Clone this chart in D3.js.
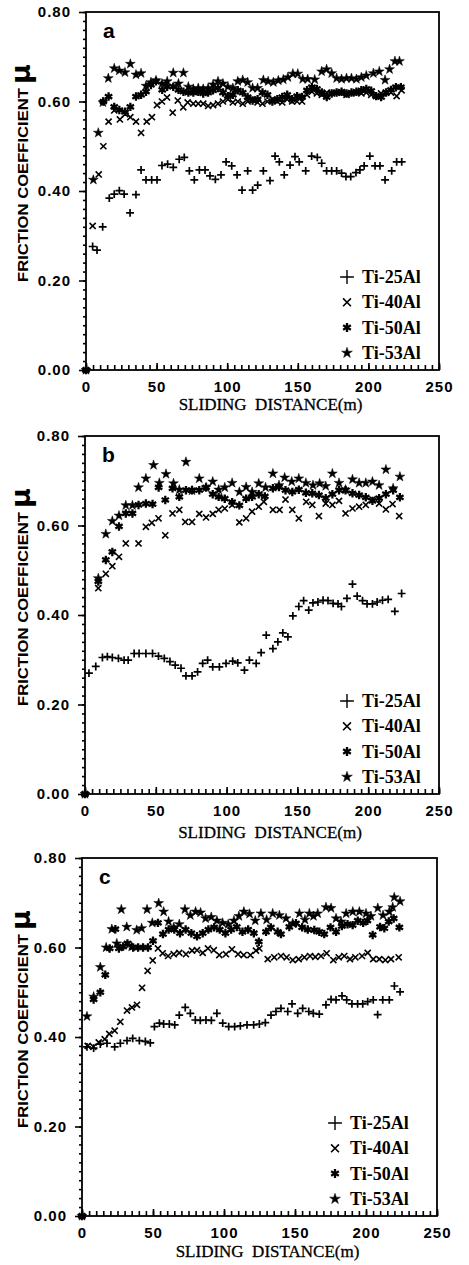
<!DOCTYPE html>
<html lang="en">
<head>
<meta charset="UTF-8" />
<title>Friction coefficient vs sliding distance</title>
<script src="https://d3js.org/d3.v7.min.js"></script>
<style>
  body { margin: 0; background: #fff; }
  svg { display: block; }
  .tick text { font-family: "Liberation Sans", Arial, sans-serif; font-weight: bold; font-size: 15px; letter-spacing: 1px; fill: #000; }
  .tick line { stroke: #000; stroke-width: 1.6px; }
  .axis-title { font-family: "Liberation Serif", "Times New Roman", serif; font-size: 17px; fill: #000; stroke: #000; stroke-width: 0.3px; }
  .y-title { font-family: "Liberation Sans", Arial, sans-serif; font-weight: bold; font-size: 15px; fill: #000; }
  .mu { font-family: "DejaVu Sans", sans-serif; font-weight: bold; font-size: 27px; fill: #000; }
  .panel-label { font-family: "Liberation Sans", Arial, sans-serif; font-weight: bold; font-size: 21px; fill: #000; }
  .legend text { font-family: "Liberation Serif", "Times New Roman", serif; font-weight: bold; font-size: 18px; fill: #000; }
</style>
</head>
<body>
<svg id="chart" width="469" height="1265"></svg>
<script>
// series names and axis ticks
const seriesNames = ["Ti-25Al", "Ti-40Al", "Ti-50Al", "Ti-53Al"];
const xTicks = [0, 50, 100, 150, 200, 250];
const yTicks = [0, 0.2, 0.4, 0.6, 0.8];

// panel a : [sliding distance (m), friction coefficient]
const a25 = [[0,0],[4.7,.276],[7.8,.268],[11.8,.32],[16.5,.384],[20,.393],[23.6,.401],[27,.393],[31.2,.351],[35.4,.392],[39,.447],[42.5,.425],[46.5,.425],[50.3,.425],[53.8,.457],[57.8,.46],[61.8,.453],[66,.471],[69.6,.475],[73.2,.445],[76.7,.425],[80.3,.447],[84.3,.447],[87.8,.434],[91.6,.426],[95.6,.436],[99.2,.465],[103.2,.456],[107,.436],[110.5,.402],[114.5,.445],[118,.402],[121.6,.413],[125.6,.445],[130.3,.423],[133.9,.478],[136.9,.465],[140.4,.436],[144.5,.458],[148,.477],[151,.465],[155.6,.445],[159.8,.478],[163.8,.475],[166.9,.462],[170.4,.445],[174,.445],[177.5,.445],[181,.44],[184.1,.432],[187.5,.432],[191.2,.441],[194,.447],[197,.456],[201,.478],[204.7,.456],[208.2,.456],[211.8,.425],[216.5,.445],[220,.465],[223.6,.465]];
const a40 = [[0,0],[4.7,.322],[9,.437],[12.3,.50],[16,.555],[20,.58],[24,.56],[27.8,.572],[31.4,.565],[35.4,.555],[39,.53],[43,.555],[46.7,.565],[50.3,.592],[53.8,.60],[57.4,.609],[61.4,.575],[65,.602],[68.9,.587],[72,.598],[76,.595],[79.5,.595],[83,.595],[86.5,.59],[90,.592],[93.5,.595],[97,.60],[100.5,.605],[104,.598],[107.5,.60],[111,.595],[114.5,.60],[118,.605],[121.5,.598],[125,.595],[128.5,.60],[132,.605],[135.5,.60],[139,.598],[142.5,.605],[146,.60],[149.5,.60],[153,.60],[156.5,.615],[160,.622],[163.5,.618],[167,.615],[170.5,.62],[174,.618],[177.5,.62],[181,.62],[184.5,.615],[188,.618],[191.5,.62],[195,.618],[198.5,.62],[202,.615],[205.5,.612],[209,.618],[212.5,.62],[216,.62],[220,.612],[223.5,.625]];
const a50 = [[0,0],[12.3,.60],[16,.611],[20,.588],[23.6,.581],[27.6,.577],[31.4,.588],[35.4,.611],[39,.615],[42.5,.622],[46,.637],[49.6,.645],[54,.626],[57.5,.633],[61.8,.633],[65.5,.626],[69,.622],[72.5,.62],[76,.62],[79.5,.622],[83,.618],[86.5,.62],[90,.625],[93.5,.63],[97,.62],[100.5,.612],[104,.615],[107.5,.625],[111,.62],[114.5,.61],[118,.602],[121.5,.605],[125,.62],[128.5,.615],[132,.60],[135.5,.605],[139,.61],[142.5,.615],[146,.605],[149.5,.612],[153,.61],[156.5,.625],[160,.632],[163.5,.628],[167,.62],[170.5,.61],[174,.618],[177.5,.62],[181,.622],[184.5,.618],[188,.62],[191.5,.622],[195,.625],[198.5,.628],[202,.624],[205.5,.612],[209,.61],[212.5,.62],[216,.626],[219.5,.632],[223,.632]];
const a53 = [[0,0],[5.2,.425],[8.7,.53],[12,.598],[15.8,.652],[20,.674],[23.6,.669],[27.6,.665],[31.4,.684],[35.4,.66],[39,.663],[42.5,.635],[46,.643],[49.6,.647],[53.8,.64],[57.5,.645],[61.8,.664],[65.5,.64],[69,.664],[72.5,.633],[76,.628],[79.5,.63],[83,.628],[86.5,.63],[90,.638],[93.5,.645],[97,.64],[100.5,.633],[104,.63],[107.5,.645],[111,.648],[114.5,.643],[118,.63],[121.5,.63],[125.6,.648],[129,.645],[132.7,.643],[136.2,.647],[139.7,.649],[143,.654],[146.5,.662],[150,.662],[153.5,.65],[157,.65],[162,.649],[166.9,.667],[170.4,.672],[174,.663],[177.5,.652],[181,.65],[184.5,.652],[188,.652],[191.5,.65],[195,.654],[198.5,.658],[203.5,.663],[207.7,.667],[211.8,.648],[215,.672],[218.8,.69],[222,.69]];

// panel b
const b25 = [[0,0],[2.8,.270],[7.6,.285],[12.3,.305],[15.8,.307],[19.3,.305],[23.6,.303],[27.6,.299],[30.5,.299],[34.7,.314],[38.2,.314],[43,.314],[47.7,.314],[51.9,.308],[56,.303],[60,.296],[63.7,.288],[67.8,.281],[71.3,.264],[75.6,.264],[79.5,.273],[83.1,.292],[86.6,.299],[90.2,.284],[94.9,.284],[99.6,.292],[104.3,.297],[107.9,.293],[112.6,.277],[116.1,.299],[120.9,.292],[124.4,.316],[128,.355],[132.7,.325],[136.2,.34],[139.7,.36],[143.3,.351],[146.8,.398],[151,.419],[154.4,.432],[158,.411],[161,.427],[164.5,.429],[168.1,.433],[171.6,.432],[175.2,.426],[178.7,.425],[181.1,.419],[185,.437],[188.9,.469],[192.2,.442],[196,.432],[199.2,.425],[203,.425],[206.3,.429],[210.1,.433],[214.1,.435],[218.8,.408],[223.6,.448]];
const b40 = [[0,0],[9.4,.46],[14.7,.492],[19.3,.509],[24,.53],[28.8,.56],[37.8,.56],[43,.597],[47.2,.606],[51.9,.616],[56.7,.578],[61.8,.627],[66.6,.635],[70.8,.608],[75.6,.608],[80.7,.626],[85.5,.618],[90.2,.626],[94.4,.635],[98.7,.638],[103.9,.646],[109,.607],[113.8,.616],[118,.631],[122.7,.642],[126.3,.653],[132.7,.635],[137.4,.635],[141.6,.658],[146.4,.635],[151,.616],[156.2,.653],[160.5,.646],[165.2,.621],[170,.649],[174.7,.646],[179.4,.655],[184,.627],[188.9,.638],[193.6,.642],[198.3,.646],[203,.658],[207.7,.649],[212.5,.636],[217.2,.648],[221.9,.621]];
const b50 = [[0,0],[9.4,.475],[14.7,.523],[19.3,.541],[24,.598],[28.8,.627],[33.5,.627],[37.8,.646],[43,.649],[47.7,.648],[52,.685],[56.7,.657],[61.8,.683],[66.6,.664],[71.3,.679],[75.6,.679],[80.7,.679],[85.5,.685],[90.2,.67],[94.4,.664],[98.7,.66],[103.9,.652],[109,.645],[113.8,.66],[118,.664],[122.7,.67],[127,.665],[132.7,.683],[137,.686],[141.6,.679],[146.4,.675],[151,.68],[156,.673],[160.5,.672],[165.2,.668],[170,.661],[174.7,.67],[179.4,.679],[184,.679],[188.9,.672],[193.6,.668],[198.3,.663],[203,.655],[207.7,.661],[212.5,.67],[217.6,.679],[222.4,.663]];
const b53 = [[0,0],[9.4,.482],[14.7,.581],[19.3,.61],[24,.622],[28.8,.645],[33.5,.645],[37.8,.685],[43,.705],[48.4,.735],[52.5,.695],[57.2,.715],[62.5,.694],[66.6,.68],[71.3,.742],[75.6,.678],[80.7,.705],[85.5,.685],[90.2,.698],[94.4,.68],[98.7,.685],[103.9,.695],[109,.675],[113.8,.686],[118,.675],[122.7,.694],[127.5,.685],[132.7,.716],[137,.69],[141,.707],[146,.698],[151,.705],[156,.695],[161,.69],[165.7,.694],[170,.688],[174.7,.716],[179.4,.695],[184,.68],[188.9,.703],[193.6,.695],[198.3,.695],[203,.698],[207.7,.69],[212.5,.725],[217.6,.683],[222.4,.709]];

// panel c
const c25 = [[0,0],[3.5,.378],[8.2,.375],[12.9,.384],[17.6,.386],[23,.378],[27,.386],[31.7,.392],[35.7,.397],[40.4,.392],[44.6,.39],[48.1,.387],[51,.423],[54.5,.431],[57.5,.429],[61.5,.429],[65.3,.427],[68.5,.449],[72.7,.466],[76.3,.453],[79.8,.438],[83.3,.437],[87.3,.438],[91.1,.437],[95,.453],[99.1,.431],[103.3,.423],[107.5,.423],[111.5,.425],[116.2,.427],[120.9,.427],[124.9,.429],[129.1,.432],[133.1,.449],[136.6,.457],[140.1,.464],[144.9,.457],[147.9,.474],[151.9,.453],[155.4,.464],[159.7,.457],[162.9,.453],[167.1,.451],[171.8,.472],[175.4,.484],[178.9,.483],[183.1,.492],[186.4,.483],[190.1,.474],[194.1,.474],[197.7,.474],[201.2,.479],[205.1,.483],[208.2,.45],[211.8,.483],[216.4,.483],[220,.514],[224,.501]];
const c40 = [[0,0],[4,.38],[8,.378],[11.8,.388],[16,.395],[19.2,.407],[23,.414],[27,.434],[31.7,.459],[35.2,.466],[38.7,.472],[42.3,.51],[46.2,.548],[49.8,.571],[53.5,.598],[56.8,.587],[60.6,.581],[64.6,.585],[68.5,.588],[73.2,.585],[77.5,.593],[81,.594],[85,.588],[88.7,.598],[92.8,.594],[96.7,.583],[101.4,.585],[105.6,.596],[109.9,.585],[113.9,.583],[118.6,.583],[122.5,.593],[124.9,.598],[130.8,.574],[135.4,.578],[140.1,.581],[144.1,.578],[148.4,.572],[152.6,.574],[156.6,.578],[160.6,.581],[164.3,.579],[168.3,.581],[172.3,.587],[177,.572],[180.8,.578],[184.7,.581],[188.7,.574],[192.5,.578],[197.2,.581],[201.2,.588],[205.1,.574],[209.4,.574],[213.6,.572],[217.6,.574],[223,.578]];
const c50 = [[0,0],[8.2,.484],[12.9,.50],[16.4,.539],[19.5,.598],[23.5,.641],[26,.598],[29,.602],[32,.609],[36,.60],[39.5,.60],[43,.60],[46.5,.60],[50,.615],[53.5,.655],[57,.63],[61,.64],[65,.64],[69,.632],[73,.64],[77,.632],[81,.625],[85,.632],[89,.64],[93,.645],[97,.64],[101,.632],[105,.64],[109,.646],[113,.635],[117,.64],[121,.632],[124.5,.613],[129.6,.635],[133,.645],[137.8,.635],[140.1,.63],[146,.646],[150.7,.654],[155,.645],[159,.64],[163.6,.639],[167.1,.635],[170.6,.63],[175,.645],[178.9,.635],[183,.648],[187,.652],[190.6,.65],[194.2,.66],[198,.655],[201,.66],[204.7,.628],[209.9,.646],[212.9,.643],[216,.658],[219.5,.665],[223.5,.645]];
const c53 = [[0,0],[3.5,.446],[8.2,.49],[12.9,.556],[17,.60],[21,.641],[24.5,.609],[27.7,.685],[31.5,.646],[35,.602],[38.5,.639],[42,.643],[45.8,.685],[49.5,.655],[54,.699],[57.5,.68],[61,.658],[64.6,.645],[68.5,.652],[72.5,.685],[76.3,.672],[80,.68],[83.5,.678],[87,.665],[91,.668],[95,.66],[99,.655],[103,.652],[107,.66],[110.5,.67],[114,.68],[118,.675],[122,.66],[126,.676],[130,.662],[134.3,.676],[139,.672],[143.7,.665],[148.4,.654],[153.1,.676],[157,.662],[160.1,.676],[163,.67],[166,.676],[171.8,.69],[175.4,.688],[178.9,.665],[182.4,.658],[186,.676],[190.7,.68],[195.3,.68],[200,.676],[203.5,.67],[208.3,.688],[212,.672],[216.4,.68],[218.8,.69],[219.9,.712],[224,.703]];

// layout of the three stacked panels (pixels)
const panels = [
  { label: "a", series: [a25, a40, a50, a53], left: 86, right: 439, top: 12, bottom: 370, titleY: 410, legendX: 347 },
  { label: "b", series: [b25, b40, b50, b53], left: 85, right: 439, top: 436, bottom: 794, titleY: 838, legendX: 347 },
  { label: "c", series: [c25, c40, c50, c53], left: 82, right: 437, top: 858, bottom: 1216, titleY: 1257, legendX: 335 }
];

// marker styles: plus, times, asterisk (stroked) and filled star
const markers = [
  { type: d3.symbolPlus, size: 22, legendSize: 64, fill: false, width: 1.7 },
  { type: d3.symbolTimes, size: 26, legendSize: 42, fill: false, width: 1.6 },
  { type: d3.symbolAsterisk, size: 50, legendSize: 56, fill: false, width: 2.3 },
  { type: d3.symbolStar, size: 30, legendSize: 36, fill: true, width: 0 }
];

const svg = d3.select("#chart");

function styleMarker(sel, m) {
  if (m.fill) sel.attr("fill", "#000").attr("stroke", "#000").attr("stroke-width", 0.5);
  else sel.attr("fill", "none").attr("stroke", "#000").attr("stroke-width", m.width);
}

panels.forEach(p => {
  const g = svg.append("g");
  const x = d3.scaleLinear().domain([0, 250]).range([p.left, p.right]);
  const y = d3.scaleLinear().domain([0, 0.8]).range([p.bottom, p.top]);

  // minor ticks
  g.append("g")
    .attr("transform", `translate(${p.left},0)`)
    .call(d3.axisLeft(y).tickValues(d3.range(0, 0.801, 0.02)).tickSize(3).tickFormat(""));
  g.append("g")
    .attr("transform", `translate(0,${p.bottom})`)
    .call(d3.axisBottom(x).tickValues(d3.range(0, 251, 5)).tickSize(-5).tickFormat(""));

  // major ticks with labels
  g.append("g")
    .attr("transform", `translate(${p.left},0)`)
    .call(d3.axisLeft(y).tickValues(yTicks).tickSize(7).tickPadding(8).tickFormat(d3.format(".2f")));
  g.append("g")
    .attr("transform", `translate(0,${p.bottom})`)
    .call(d3.axisBottom(x).tickValues(xTicks).tickSize(-7).tickPadding(11));

  g.selectAll(".domain").remove();
  g.selectAll(".tick line").attr("stroke", "#000");

  // frame
  g.append("rect")
    .attr("x", p.left).attr("y", p.top)
    .attr("width", p.right - p.left).attr("height", p.bottom - p.top)
    .attr("fill", "none").attr("stroke", "#000").attr("stroke-width", 1.8);

  // data markers
  p.series.forEach((data, i) => {
    const m = markers[i];
    const sym = d3.symbol().type(m.type).size(m.size);
    const pts = g.append("g").selectAll("path")
      .data(data)
      .join("path")
      .attr("transform", d => `translate(${x(d[0])},${y(d[1])})`)
      .attr("d", sym);
    styleMarker(pts, m);
  });

  // panel letter
  g.append("text").attr("class", "panel-label")
    .attr("x", p.left + 17).attr("y", p.top + 26).text(p.label);

  // axis titles
  g.append("text").attr("class", "axis-title")
    .attr("x", (p.left + p.right) / 2 + 8).attr("y", p.titleY)
    .attr("text-anchor", "middle")
    .attr("xml:space", "preserve")
    .text("SLIDING  DISTANCE(m)");

  g.append("text").attr("class", "y-title")
    .attr("transform", `translate(28,${p.top + 270}) rotate(-90)`)
    .attr("textLength", 194).attr("lengthAdjust", "spacingAndGlyphs")
    .text("FRICTION COEFFICIENT");
  g.append("text").attr("class", "mu")
    .attr("transform", `translate(30,${p.top + 62}) rotate(-90)`)
    .attr("text-anchor", "middle")
    .text("μ");

  // legend
  const lg = g.append("g").attr("class", "legend");
  seriesNames.forEach((name, i) => {
    const m = markers[i];
    const cy = p.top + 265 + 25.3 * i;
    const mk = lg.append("path")
      .attr("transform", `translate(${p.legendX},${cy})`)
      .attr("d", d3.symbol().type(m.type).size(m.legendSize));
    styleMarker(mk, Object.assign({}, m, { width: i === 0 ? 1.4 : m.width }));
    lg.append("text")
      .attr("x", p.legendX + 15).attr("y", cy + 6)
      .text(name);
  });
});
</script>
</body>
</html>
